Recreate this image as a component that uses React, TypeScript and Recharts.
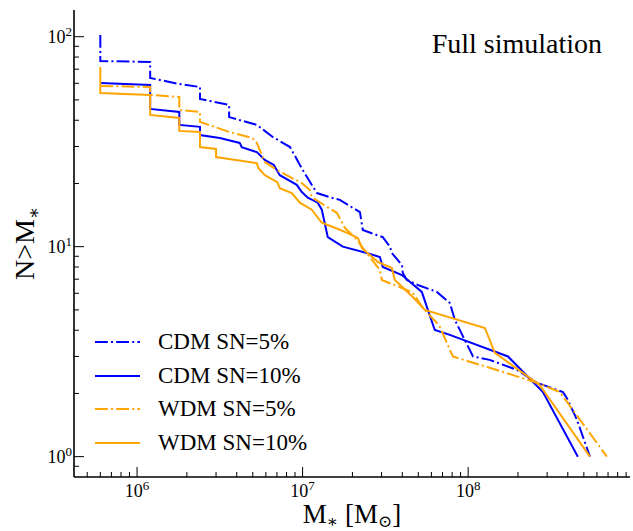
import React from 'react';
import { LineChart, Line, XAxis, YAxis, Legend } from 'recharts';

// cumulative stellar mass functions, N(>M*)
const cdm5Mass = [6.0e5, 6.0e5, 1.2e6, 1.2e6, 1.8e6, 2.4e6, 2.4e6, 3.6e6, 3.6e6, 5.3e6, 6.6e6, 8.4e6, 1.0e7, 1.22e7, 1.46e7, 1.68e7, 2.22e7, 2.31e7, 3.05e7, 3.37e7, 3.46e7, 3.98e7, 4.03e7, 4.26e7, 4.97e7, 6.47e7, 7.75e7, 8.31e7, 9.55e7, 1.07e8, 1.35e8, 1.97e8, 2.6e8, 3.74e8, 3.95e8, 4.54e8, 5.44e8];
const cdm5N = [102, 76.6, 75.8, 63.6, 59.5, 57.6, 50.5, 47.3, 41.4, 38.0, 33.3, 29.8, 23.2, 18.0, 17.2, 16.7, 14.6, 12.0, 11.1, 10.0, 9.33, 8.18, 7.5, 6.94, 6.57, 6.09, 5.4, 4.48, 3.59, 3.0, 2.89, 2.59, 2.25, 2.03, 1.9, 1.5, 1.0];

const cdm10Mass = [6.0e5, 1.2e6, 1.2e6, 1.8e6, 1.8e6, 2.4e6, 2.4e6, 3.16e6, 4.17e6, 4.29e6, 5.29e6, 5.91e6, 6.7e6, 7.28e6, 9.22e6, 9.89e6, 1.075e7, 1.235e7, 1.306e7, 1.42e7, 1.75e7, 2.44e7, 2.93e7, 3.05e7, 3.98e7, 5.25e7, 5.71e7, 6.29e7, 7.75e7, 1.74e8, 2.83e8, 4.6e8];
const cdm10N = [60.2, 58.9, 45.3, 43.8, 38.0, 37.2, 34.0, 32.9, 31.2, 29.8, 28.2, 25.9, 24.5, 21.9, 19.7, 18.2, 17.1, 16.2, 15.0, 11.1, 10.0, 9.33, 8.93, 8.01, 7.33, 6.09, 5.0, 4.01, 3.8, 3.0, 2.03, 1.0];

const wdm5Mass = [6.0e5, 1.2e6, 1.2e6, 1.8e6, 1.8e6, 2.4e6, 2.4e6, 3.6e6, 4.97e6, 5.29e6, 5.91e6, 7.0e6, 8.37e6, 9.89e6, 1.105e7, 1.136e7, 1.40e7, 1.61e7, 1.80e7, 2.13e7, 2.28e7, 2.93e7, 3.01e7, 4.26e7, 4.63e7, 5.33e7, 6.47e7, 6.75e7, 8.08e7, 1.35e8, 2.6e8, 3.58e8, 6.89e8];
const wdm5N = [58.3, 57.6, 52.8, 51.6, 44.8, 43.8, 39.3, 35.2, 32.9, 31.2, 25.3, 23.2, 21.5, 20.1, 18.6, 17.2, 15.5, 14.5, 12.3, 10.8, 10.0, 7.74, 6.94, 6.22, 6.02, 5.11, 4.33, 4.15, 3.0, 2.65, 2.25, 2.03, 1.0];

const wdm10Mass = [6.0e5, 6.0e5, 1.2e6, 1.2e6, 1.8e6, 1.8e6, 2.4e6, 2.4e6, 3.0e6, 3.0e6, 5.29e6, 5.4e6, 5.91e6, 7.03e6, 7.28e6, 8.61e6, 9.62e6, 1.136e7, 1.306e7, 1.565e7, 1.876e7, 2.156e7, 2.28e7, 2.85e7, 3.46e7, 3.61e7, 4.63e7, 5.48e7, 1.262e8, 1.45e8, 2.71e8, 5.44e8];
const wdm10N = [71.7, 53.9, 52.8, 42.4, 41.0, 35.6, 35.2, 29.8, 29.2, 26.7, 25.0, 23.7, 21.9, 20.3, 19.0, 18.0, 16.2, 15.0, 13.0, 12.3, 11.6, 11.0, 9.86, 8.45, 7.92, 6.94, 5.76, 5.0, 4.1, 3.12, 2.19, 1.0];

const xTicks = [5e5, 6e5, 7e5, 8e5, 9e5, 1e6, 2e6, 3e6, 4e6, 5e6, 6e6, 7e6, 8e6, 9e6, 1e7, 2e7, 3e7, 4e7, 5e7, 6e7, 7e7, 8e7, 9e7, 1e8, 2e8, 3e8, 4e8, 5e8, 6e8, 7e8, 8e8, 9e8];
const yTicks = [0.9, 1, 2, 3, 4, 5, 6, 7, 8, 9, 10, 20, 30, 40, 50, 60, 70, 80, 90, 100];

const xDomain = [4.16e5, 9.5e8];
const yDomain = [0.8, 134];

const FONT = '"Liberation Serif", "DejaVu Serif", serif';
const DASHDOT = '12.8 3.2 2 3.2';

const zip = (m: number[], n: number[]) => m.map((v, i) => ({ m: v, n: n[i] }));

const series = [
  { name: 'CDM SN=5%', data: zip(cdm5Mass, cdm5N), color: '#0000ff', dash: DASHDOT },
  { name: 'CDM SN=10%', data: zip(cdm10Mass, cdm10N), color: '#0000ff', dash: undefined },
  { name: 'WDM SN=5%', data: zip(wdm5Mass, wdm5N), color: '#ffa500', dash: DASHDOT },
  { name: 'WDM SN=10%', data: zip(wdm10Mass, wdm10N), color: '#ffa500', dash: undefined },
];

const isMajor = (v: number) => {
  const e = Math.log10(v);
  return Math.abs(e - Math.round(e)) < 1e-6;
};

const Pow = ({ v }: { v: number }) => (
  <>
    10<tspan dy={-7} fontSize={13}>{Math.round(Math.log10(v))}</tspan>
  </>
);

const BottomTick = (p: any) => {
  const v = p.payload.value;
  const major = isMajor(v);
  return (
    <g>
      <line x1={p.x} x2={p.x} y1={p.y} y2={p.y - (major ? 10 : 5)} stroke="#000" />
      {major && (
        <text x={p.x} y={p.y + 20} textAnchor="middle" fontSize={18} fontFamily={FONT} fill="#000">
          <Pow v={v} />
        </text>
      )}
    </g>
  );
};

const TopTick = (p: any) => {
  const major = isMajor(p.payload.value);
  return <line x1={p.x} x2={p.x} y1={p.y} y2={p.y + (major ? 10 : 5)} stroke="#000" />;
};

const LeftTick = (p: any) => {
  const v = p.payload.value;
  const major = isMajor(v);
  return (
    <g>
      <line x1={p.x} x2={p.x + (major ? 10 : 5)} y1={p.y} y2={p.y} stroke="#000" />
      {major && (
        <text x={p.x - 2} y={p.y + 6} textAnchor="end" fontSize={18} fontFamily={FONT} fill="#000">
          <Pow v={v} />
        </text>
      )}
    </g>
  );
};

const RightTick = (p: any) => {
  const major = isMajor(p.payload.value);
  return <line x1={p.x} x2={p.x - (major ? 10 : 5)} y1={p.y} y2={p.y} stroke="#000" />;
};

const XTitle = (p: any) => {
  const vb = p.viewBox;
  return (
    <text x={vb.x + vb.width / 2} y={vb.y + 46} textAnchor="middle" fontSize={27} fontFamily={FONT} fill="#000">
      M<tspan dy={4} fontSize={17}>∗</tspan>
      <tspan dy={-4}> [M</tspan>
      <tspan dy={4} fontSize={17}>⊙</tspan>
      <tspan dy={-4}>]</tspan>
    </text>
  );
};

const YTitle = (p: any) => {
  const vb = p.viewBox;
  const cx = vb.x + 34;
  const cy = vb.y + vb.height / 2;
  return (
    <text x={cx} y={cy} transform={`rotate(-90, ${cx}, ${cy})`} textAnchor="middle" fontSize={28} fontFamily={FONT} fill="#000">
      N&gt;M<tspan dy={6} fontSize={18}>∗</tspan>
    </text>
  );
};

const LegendBox = () => (
  <div style={{ fontFamily: FONT, fontSize: 23, color: '#000' }}>
    {series.map(s => (
      <div key={s.name} style={{ display: 'flex', alignItems: 'center', height: 33.7 }}>
        <svg width={45} height={10} style={{ marginRight: 18 }}>
          <line x1={0} x2={45} y1={5} y2={5} stroke={s.color} strokeWidth={2} strokeDasharray={s.dash} />
        </svg>
        <span>{s.name}</span>
      </div>
    ))}
  </div>
);

export default function App() {
  return (
    <div style={{ position: 'absolute', left: 0, top: 0, width: 633, height: 531, background: '#fff' }}>
      <LineChart width={633} height={531} margin={{ top: 10, right: 3, bottom: 0, left: 0 }} style={{ fontFamily: FONT }}>
        <XAxis
          dataKey="m"
          type="number"
          scale="log"
          domain={xDomain}
          allowDataOverflow
          ticks={xTicks}
          interval={0}
          height={54}
          tickSize={0}
          tickMargin={0}
          tick={BottomTick}
          axisLine={{ stroke: '#000', strokeWidth: 1.6 }}
          label={<XTitle />}
        />
        <XAxis
          xAxisId="top"
          orientation="top"
          type="number"
          scale="log"
          domain={xDomain}
          allowDataOverflow
          ticks={xTicks}
          interval={0}
          height={0}
          tickSize={0}
          tickMargin={0}
          tick={TopTick}
          axisLine={{ stroke: '#000', strokeWidth: 1.6 }}
        />
        <YAxis
          dataKey="n"
          type="number"
          scale="log"
          domain={yDomain}
          allowDataOverflow
          ticks={yTicks}
          interval={0}
          width={74}
          tickSize={0}
          tickMargin={0}
          tick={LeftTick}
          axisLine={{ stroke: '#000', strokeWidth: 1.6 }}
          label={<YTitle />}
        />
        <YAxis
          yAxisId="right"
          orientation="right"
          type="number"
          scale="log"
          domain={yDomain}
          allowDataOverflow
          ticks={yTicks}
          interval={0}
          width={0}
          tickSize={0}
          tickMargin={0}
          tick={RightTick}
          axisLine={{ stroke: '#000', strokeWidth: 1.6 }}
        />
        {series.map(s => (
          <Line
            key={s.name}
            data={s.data}
            dataKey="n"
            name={s.name}
            type="linear"
            stroke={s.color}
            strokeWidth={2}
            strokeDasharray={s.dash}
            dot={false}
            activeDot={false}
            isAnimationActive={false}
          />
        ))}
        <text x={602} y={53} textAnchor="end" fontSize={28} fontFamily={FONT} fill="#000">
          Full simulation
        </text>
        <Legend
          layout="vertical"
          align="center"
          verticalAlign="middle"
          content={<LegendBox />}
          wrapperStyle={{ position: 'absolute', left: 95, top: 325, width: 'auto', height: 'auto' }}
        />
      </LineChart>
    </div>
  );
}
